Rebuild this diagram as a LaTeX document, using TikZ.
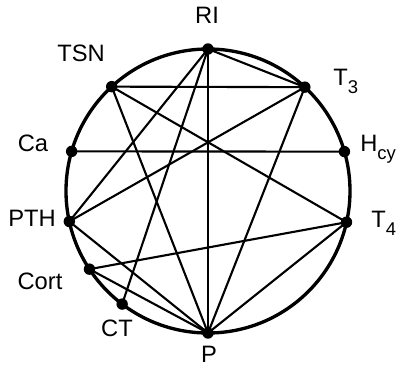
\documentclass[tikz,border=0pt]{standalone}
\usepackage{fontspec}
\setmainfont{Liberation Sans}
\usetikzlibrary{positioning,calc}
\newcommand{\lowsub}[1]{\raisebox{-0.3em}{\fontsize{10.5}{12}\selectfont #1}}

\begin{document}
\begin{tikzpicture}[
    x=0.02cm, y=0.02cm,
    rim/.style={draw, line width=1.9pt},
    link/.style={line width=1.2pt},
    hub/.style={circle, fill, inner sep=0pt, minimum size=6.5pt},
    lbl/.style={inner sep=0pt, font=\fontsize{13.5}{15}\selectfont}
]
    \useasboundingbox (0,0) rectangle (396,369);

    % Circle
    \coordinate (c) at (208,178);
    \draw[rim] (c) circle[radius=142];

    % Points on the circle
    \node[hub] (ri)   at ($(c)+(90:142)$) {};
    \node[hub] (tsn)  at ($(c)+(132.7:142)$) {};
    \node[hub] (t3)   at ($(c)+(47:142)$) {};
    \node[hub] (ca)   at ($(c)+(163.8:142)$) {};
    \node[hub] (hcy)  at ($(c)+(16.1:142)$) {};
    \node[hub] (pth)  at ($(c)+(192.4:142)$) {};
    \node[hub] (t4)   at ($(c)+(-12.7:142)$) {};
    \node[hub] (cort) at ($(c)+(213.4:142)$) {};
    \node[hub] (ct)   at ($(c)+(232.8:142)$) {};
    \node[hub] (p)    at ($(c)+(270:142)$) {};

    % Labels
    \node[lbl, anchor=base] (lri) at (207,345) {RI};
    \node[lbl, anchor=base] (ltsn) at (81,307) {TSN};
    \node[lbl, anchor=base west] (lt3) at (333,283) {T\lowsub{3}};
    \node[lbl, anchor=base] (lca) at (33,217) {Ca};
    \node[lbl, anchor=base west] (lhcy) at (360,217) {H\lowsub{cy}};
    \node[lbl, anchor=base] (lpth) at (32,142) {PTH};
    \node[lbl, anchor=base west] (lt4) at (371,141) {T\lowsub{4}};
    \node[lbl, anchor=base] (lcort) at (40,79) {Cort};
    \node[lbl, anchor=base] (lct) at (117,32) {CT};
    \node[lbl, anchor=base] (lp) at (209,7) {P};

    % Links
    \draw[link] (ri.center) -- (t3.center);
    \draw[link] (ri.center) -- (p.center);
    \draw[link] (ri.center) -- (pth.center);
    \draw[link] (ri.center) -- (ct.center);
    \draw[link] (tsn.center) -- (t3.center);
    \draw[link] (tsn.center) -- (t4.center);
    \draw[link] (tsn.center) -- (p.center);
    \draw[link] (t3.center) -- (pth.center);
    \draw[link] (t3.center) -- (p.center);
    \draw[link] (ca.center) -- (hcy.center);
    \draw[link] (pth.center) -- (p.center);
    \draw[link] (cort.center) -- (t4.center);
    \draw[link] (cort.center) -- (p.center);
    \draw[link] (t4.center) -- (p.center);

\end{tikzpicture}
\end{document}
